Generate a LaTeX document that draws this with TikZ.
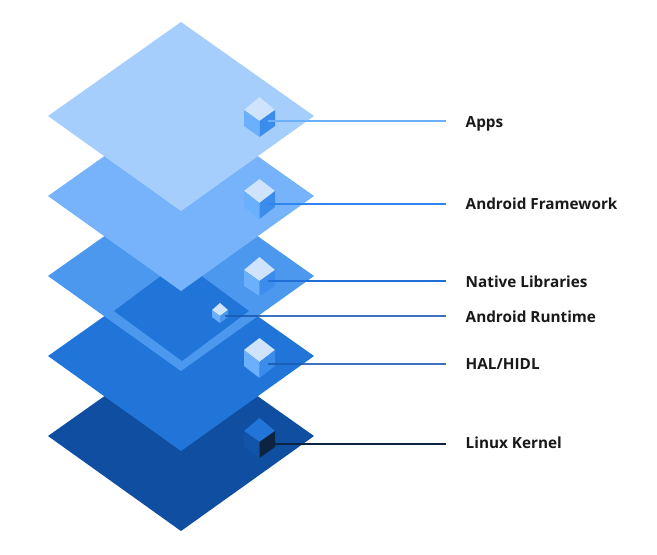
\documentclass[tikz,border=0pt]{standalone}
\usepackage{fontspec}
\setmainfont{Open Sans}
\definecolor{layA}{HTML}{A6CEFC}
\definecolor{layB}{HTML}{76B3FA}
\definecolor{layC}{HTML}{4C98EE}
\definecolor{layD}{HTML}{2175D9}
\definecolor{layE}{HTML}{0F4EA0}
\definecolor{cubeTop}{HTML}{CFE3FD}
\definecolor{cubeLeft}{HTML}{6AB0FC}
\definecolor{cubeRight}{HTML}{3C8CEB}
\definecolor{lineA}{HTML}{6AB0FC}
\definecolor{lineB}{HTML}{2F86F0}
\definecolor{lineC}{HTML}{1F6FD6}
\definecolor{lineD}{HTML}{1A5AB0}
\definecolor{lineF}{HTML}{0D2440}
\tikzset{
  x=1pt,y=-1pt,
  lab/.style={anchor=base west,inner sep=0pt,font=\bfseries\fontsize{15.3}{17}\selectfont,text=black!90},
  conn/.style={line width=2pt},
  connsoft/.style={line width=2pt,draw opacity=0.85},
}
\newcommand{\layer}[2]{\fill[#2] (181,#1-94) -- (314,#1) -- (181,#1+95) -- (48,#1) -- cycle;}
\begin{document}
\begin{tikzpicture}
\useasboundingbox (0,0) rectangle (657,555);
\fill[white] (0,0) rectangle (657,555);
\layer{436}{layE}
\layer{356}{layD}
\layer{276}{layC}
\fill[layD] (181,261) -- (249,311) -- (182,361) -- (114,311) -- cycle;
\layer{196}{layB}
\layer{116}{layA}

% cubes
\fill[cubeTop] (259.5,97) -- (275,110) -- (259.5,121) -- (244,110) -- cycle;
\fill[cubeLeft] (244,110) -- (259.5,121) -- (259.5,137) -- (244,126) -- cycle;
\fill[cubeRight] (275,110) -- (259.5,121) -- (259.5,137) -- (275,126) -- cycle;

\fill[cubeTop] (259.5,179) -- (275,191) -- (259.5,203) -- (244,191) -- cycle;
\fill[cubeLeft] (244,191) -- (259.5,203) -- (259.5,219) -- (244,207) -- cycle;
\fill[cubeRight] (275,191) -- (259.5,203) -- (259.5,219) -- (275,207) -- cycle;

\fill[cubeTop] (259.5,257) -- (275,270) -- (259.5,281) -- (244,270) -- cycle;
\fill[cubeLeft] (244,270) -- (259.5,281) -- (259.5,296) -- (244,286) -- cycle;
\fill[cubeRight] (275,270) -- (259.5,281) -- (259.5,296) -- (275,286) -- cycle;

\fill[cubeTop] (220,303) -- (228,310) -- (220,316) -- (212,310) -- cycle;
\fill[cubeLeft] (212,310) -- (220,316) -- (220,323) -- (212,317) -- cycle;
\fill[layC] (228,310) -- (220,316) -- (220,323) -- (228,317) -- cycle;

\fill[cubeTop] (259.5,338) -- (275,350) -- (259.5,362) -- (244,350) -- cycle;
\fill[cubeLeft] (244,350) -- (259.5,362) -- (259.5,378) -- (244,366) -- cycle;
\fill[cubeRight] (275,350) -- (259.5,362) -- (259.5,378) -- (275,366) -- cycle;

\fill[layD] (259.5,418) -- (275,431) -- (259.5,442) -- (244,431) -- cycle;
\fill[layE!85!layD] (244,431) -- (259.5,442) -- (259.5,458) -- (244,447) -- cycle;
\fill[lineF] (275,431) -- (259.5,442) -- (259.5,458) -- (275,447) -- cycle;

% labels
\node[lab] (apps) at (465.5,127) {Apps};
\node[lab] (fw) at (465.5,209) {Android Framework};
\node[lab] (nat) at (465.5,287) {Native Libraries};
\node[lab] (rt) at (465.5,322) {Android Runtime};
\node[lab] (hal) at (465.5,369) {HAL/HIDL};
\node[lab] (lk) at (465.5,448.5) {Linux Kernel};

% connector anchors
\coordinate (ca) at (268,121);
\coordinate (cb) at (268,204);
\coordinate (cc) at (268,281);
\coordinate (cd) at (225,316);
\coordinate (ce) at (268,364);
\coordinate (cf) at (268,444);
\coordinate (ea) at (446,121);
\coordinate (eb) at (446,204);
\coordinate (ec) at (446,281);
\coordinate (ed) at (446,316);
\coordinate (ee) at (446,364);
\coordinate (ef) at (446,444);
\draw[conn,lineA] (ca) -- (ea);
\draw[conn,lineB] (cb) -- (eb);
\draw[conn,lineC] (cc) -- (ec);
\draw[connsoft,lineD] (cd) -- (ed);
\draw[connsoft,lineD] (ce) -- (ee);
\draw[conn,lineF] (cf) -- (ef);
\end{tikzpicture}
\end{document}
